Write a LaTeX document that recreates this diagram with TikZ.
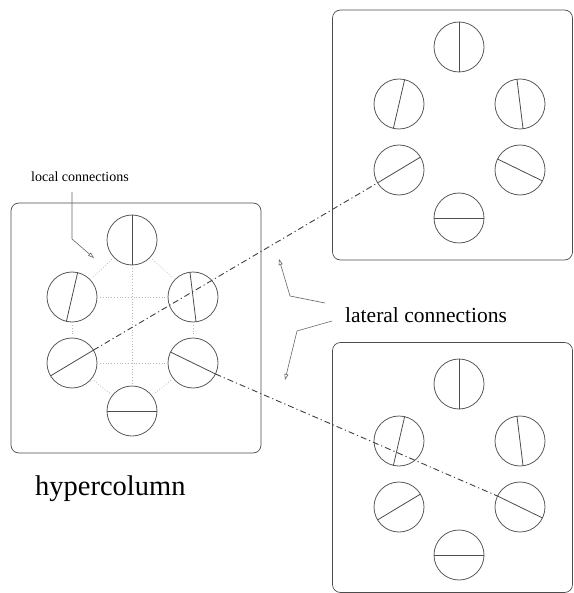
\documentclass[tikz,border=0pt]{standalone}
\usepackage{fontspec}
\setmainfont{Liberation Serif}
\usetikzlibrary{arrows.meta}
\tikzset{
  cell/.style={circle,draw=black!65,line width=0.8pt,minimum size=50pt,inner sep=0pt,outer sep=0pt},
  orient/.style={draw=black!70,line width=0.8pt},
  box/.style={draw=black!70,line width=0.7pt,rounded corners=8pt,minimum width=#1,minimum height=250pt,inner sep=0pt},
  localc/.style={draw=black!28,dotted,line width=0.8pt,shorten <=3pt,shorten >=3pt},
  lateral/.style={draw=black!75,line width=0.9pt,dash pattern=on 6pt off 3pt on 1.2pt off 3pt},
  pointer/.style={draw=black!60,line width=0.6pt,-{Triangle[open,length=6pt,width=4pt]}},
  lbl/.style={inner sep=0pt}
}
\newcommand{\hyper}[3]{%
  \node[cell] (#1t)  at (#2,#3-88) {};
  \node[cell] (#1ul) at (#2-60,#3-31) {};
  \node[cell] (#1ur) at (#2+61,#3-31) {};
  \node[cell] (#1ll) at (#2-60,#3+35) {};
  \node[cell] (#1lr) at (#2+61,#3+35) {};
  \node[cell] (#1b)  at (#2,#3+83) {};
  \draw[orient] (#1t.90) -- (#1t.270);
  \draw[orient] (#1ul.77) -- (#1ul.257);
  \draw[orient] (#1ur.97) -- (#1ur.277);
  \draw[orient] (#1ll.31) -- (#1ll.211);
  \draw[orient] (#1lr.154) -- (#1lr.334);
  \draw[orient] (#1b.0) -- (#1b.180);
}
\begin{document}
\begin{tikzpicture}[x=1pt,y=-1pt]
\useasboundingbox (0,0) rectangle (573,593);
% boxes
\node[box=250pt] (L) at (136,328) {};
\node[box=240pt] (T) at (452.5,135) {};
\node[box=240pt] (B) at (452.5,467.5) {};
% hypercolumns
\hyper{L}{132}{328}
\hyper{T}{459}{135}
\hyper{B}{459}{472}
% local connections (dotted)
\draw[localc] (Lul) -- (Lur);
\draw[localc] (Lll) -- (Llr);
\draw[localc] (Lt) -- (Lb);
\draw[localc] (Lt) -- (Lul);
\draw[localc] (Lt) -- (Lur);
\draw[localc] (Lul) -- (Lll);
\draw[localc] (Lur) -- (Llr);
\draw[localc] (Lll) -- (Lb);
\draw[localc] (Llr) -- (Lb);
% lateral connections
\draw[lateral] (Lll.31) -- (Tll.211);
\draw[lateral] (Llr.334) -- (Blr.154);
% labels
\node[lbl,font=\fontsize{14}{16}\selectfont] (loc) at (80,177) {local connections};
\coordinate (locA) at (72,192);
\coordinate (locB) at (72,239);
\coordinate (locC) at (94,258);
\draw[pointer] (locA) -- (locB) -- (locC);
\node[lbl,anchor=base west,font=\fontsize{21.5}{24}\selectfont] (lat) at (345,322) {lateral connections};
\coordinate (u1) at (325,303);
\coordinate (u2) at (290,296);
\coordinate (u3) at (279,259);
\draw[pointer] (u1) -- (u2) -- (u3);
\coordinate (d1) at (332,321);
\coordinate (d2) at (297,331);
\coordinate (d3) at (285,380);
\draw[pointer] (d1) -- (d2) -- (d3);
\node[lbl,anchor=base west,font=\fontsize{28.5}{30}\selectfont] (hyp) at (35,495) {hypercolumn};
\end{tikzpicture}
\end{document}
